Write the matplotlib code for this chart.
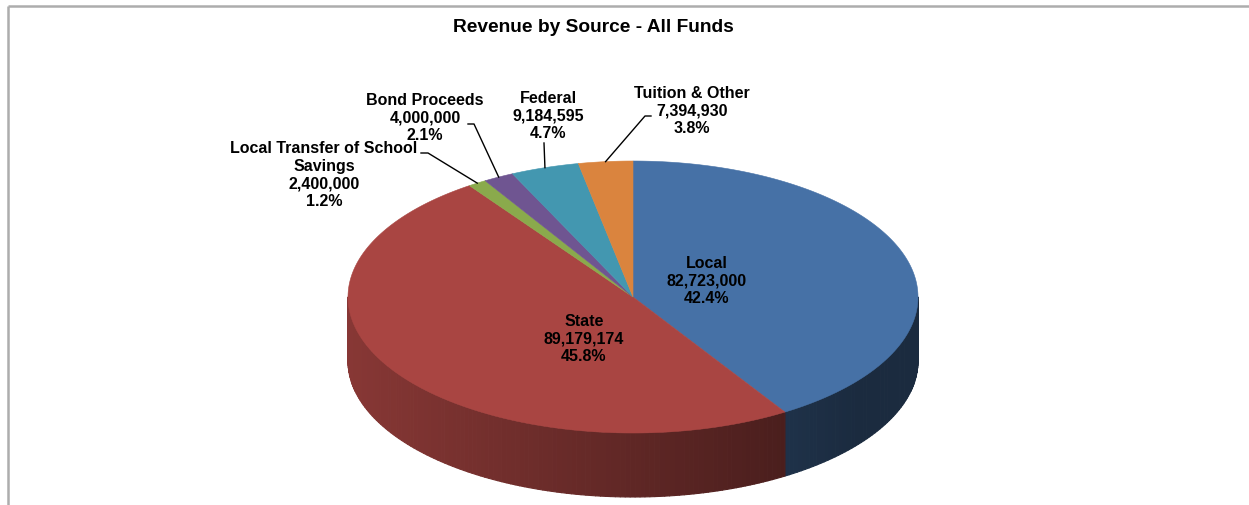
import numpy as np
import matplotlib.pyplot as plt
from matplotlib.collections import PolyCollection
from matplotlib.patches import Polygon
from matplotlib.colors import to_rgb

plt.rcParams['font.family'] = ['Liberation Sans', 'DejaVu Sans']

# revenue by source, clockwise from 12 o'clock
sources = ["Local", "State", "Local Transfer of School\nSavings",
           "Bond Proceeds", "Federal", "Tuition & Other"]
amounts = [82723000, 89179174, 2400000, 4000000, 9184595, 7394930]
top_colors = ["#4671A6", "#A94542", "#8AAA4C", "#6F5591", "#4397B0", "#DA843E"]

# label centres (pixel space) and leader elbows for the thin slices
label_xy = [(707, 281), (584, 339), (324, 175), (425, 118), (548, 116), (692, 111)]
leaders = {2: [(421, 153), (428, 153)],
           3: [(468, 124), (474, 124)],
           4: [(544, 143)],
           5: [(651, 116), (645, 116)]}

W, H = 1249, 505
cx, cy = 633, 297          # centre of the top face
rx, ry = 285, 136          # top face radii
depth = 64                 # thickness of the disc
persp = 11.0               # perspective: near side of the disc gets more arc


def warp(theta):
    # theta in degrees, clockwise from 12 o'clock
    return theta - persp * np.sin(np.radians(theta))


def rim(phi, drop=0.0):
    r = np.radians(phi)
    return cx + rx * np.sin(r), cy - ry * np.cos(r) + drop


def shade(phi):
    xn = np.sin(np.radians(phi))
    return max(0.38, 0.80 - 0.36 * (xn + 1) / 1.53)


total = sum(amounts)
bounds = np.concatenate([[0], np.cumsum(amounts) / total * 360])

fig = plt.figure(figsize=(W / 100, H / 100), dpi=100)
ax = fig.add_axes([0, 0, 1, 1])
ax.set_xlim(0, W)
ax.set_ylim(H, 0)
ax.axis('off')

# side wall, only the front half (90..270 deg) is visible
strips, strip_cols = [], []
for i, col in enumerate(top_colors):
    p1, p2 = warp(bounds[i]), warp(bounds[i + 1])
    lo, hi = max(p1, 90), min(p2, 270)
    if hi <= lo:
        continue
    steps = np.linspace(lo, hi, int(hi - lo) + 2)
    base = np.array(to_rgb(col))
    for a, b in zip(steps[:-1], steps[1:]):
        xa, ya = rim(a)
        xb, yb = rim(b)
        strips.append([(xa, ya), (xb, yb), (xb, yb + depth), (xa, ya + depth)])
        strip_cols.append(base * shade((a + b) / 2))
ax.add_collection(PolyCollection(strips, facecolors=strip_cols,
                                 edgecolors=strip_cols, linewidths=0.8, zorder=1))

# top face wedges
for i, col in enumerate(top_colors):
    phis = np.linspace(warp(bounds[i]), warp(bounds[i + 1]), 200)
    xs, ys = rim(phis)
    pts = np.column_stack([np.r_[cx, xs], np.r_[cy, ys]])
    ax.add_patch(Polygon(pts, closed=True, facecolor=col, edgecolor=col,
                         lw=0.4, zorder=2))

# data labels
for i, name in enumerate(sources):
    txt = f"{name}\n{amounts[i]:,}\n{amounts[i] / total:.1%}"
    ax.text(label_xy[i][0], label_xy[i][1], txt, ha='center', va='center',
            fontsize=11.5, fontweight='bold', linespacing=1.2, zorder=4)

# leader lines from the label to the middle of the slice rim
for i, pts in leaders.items():
    mid = warp((bounds[i] + bounds[i + 1]) / 2)
    end = rim(mid)
    xs = [p[0] for p in pts] + [end[0]]
    ys = [p[1] for p in pts] + [end[1]]
    ax.plot(xs, ys, color='black', lw=1.0, zorder=3)

ax.text(593, 28, "Revenue by Source - All Funds", ha='center', va='center',
        fontsize=13.8, fontweight='bold')

# chart frame
ax.plot([8, W], [6, 6], color='#ADADAD', lw=1.8, solid_capstyle='butt')
ax.plot([8, 8], [6, H], color='#ADADAD', lw=1.8, solid_capstyle='butt')

fig.savefig("out.png", dpi=100)
